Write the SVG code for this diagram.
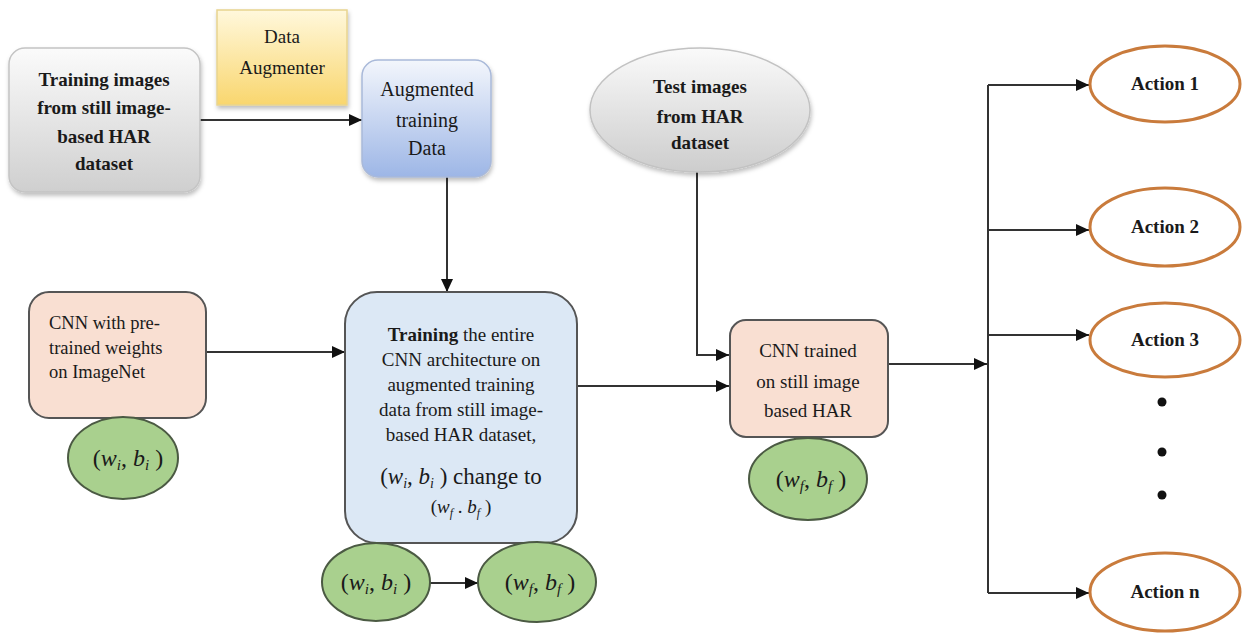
<svg xmlns="http://www.w3.org/2000/svg" width="1243" height="634" viewBox="0 0 1243 634">
<style>
text{font-family:'Liberation Serif','DejaVu Serif',serif}
.t{fill:#1a1a1a;text-anchor:middle}
.b{font-weight:bold}
.l{text-anchor:start}
.it{font-style:italic}
.con{stroke:#333;stroke-width:2;fill:none}
.green{fill:#a9d08e;stroke:#4b5a43;stroke-width:2}
.act{fill:#fff;stroke:#c97b3c;stroke-width:3}
.peach{fill:#f9dfd2;stroke:#555;stroke-width:2}
</style>
<defs>
<marker id="arr" markerUnits="userSpaceOnUse" markerWidth="14" markerHeight="12" refX="13" refY="6" orient="auto">
<path d="M0,0 L13,6 L0,12 Z" fill="#111"/>
</marker>
<linearGradient id="gGray" x1="0" y1="0" x2="0" y2="1"><stop offset="0" stop-color="#fbfbfb"/><stop offset="1" stop-color="#cfcfcf"/></linearGradient>
<linearGradient id="gYel" x1="0" y1="0" x2="0" y2="1"><stop offset="0" stop-color="#fff8dc"/><stop offset="1" stop-color="#f9d66e"/></linearGradient>
<linearGradient id="gBlue" x1="0" y1="0" x2="0" y2="1"><stop offset="0" stop-color="#f3f6fc"/><stop offset="1" stop-color="#9db6e6"/></linearGradient>
<linearGradient id="gTest" x1="0" y1="0" x2="0" y2="1"><stop offset="0" stop-color="#fafafa"/><stop offset="1" stop-color="#cdcdcd"/></linearGradient>
<filter id="sh" x="-10%" y="-10%" width="125%" height="125%"><feDropShadow dx="1" dy="3" stdDeviation="2" flood-color="#000" flood-opacity="0.25"/></filter>
</defs>

<g id="connectors">
<line class="con" x1="200" y1="120" x2="362" y2="120" marker-end="url(#arr)"/>
<line class="con" x1="447" y1="177" x2="447" y2="292" marker-end="url(#arr)"/>
<line class="con" x1="206" y1="352" x2="345" y2="352" marker-end="url(#arr)"/>
<line class="con" x1="577" y1="386" x2="729" y2="386" marker-end="url(#arr)"/>
<polyline class="con" points="697,172 697,355 729,355" marker-end="url(#arr)"/>
<line class="con" x1="888" y1="364" x2="987" y2="364" marker-end="url(#arr)"/>
<line class="con" x1="988" y1="85" x2="988" y2="593"/>
<line class="con" x1="988" y1="85" x2="1089" y2="85" marker-end="url(#arr)"/>
<line class="con" x1="988" y1="230" x2="1089" y2="230" marker-end="url(#arr)"/>
<line class="con" x1="988" y1="335" x2="1089" y2="335" marker-end="url(#arr)"/>
<line class="con" x1="988" y1="593" x2="1089" y2="593" marker-end="url(#arr)"/>
<line class="con" x1="430" y1="583" x2="478" y2="583" marker-end="url(#arr)"/>
</g>

<g id="training-images">
<rect x="9" y="48" width="191" height="144" rx="16" fill="url(#gGray)" stroke="#c4c4c4" stroke-width="1.5" filter="url(#sh)"/>
<text class="t b" font-size="19" x="104" y="86">Training images</text>
<text class="t b" font-size="19" x="104" y="114">from still image-</text>
<text class="t b" font-size="19" x="104" y="143">based HAR</text>
<text class="t b" font-size="19" x="104" y="170">dataset</text>
</g>

<g id="data-augmenter">
<rect x="217" y="10" width="130" height="95" fill="url(#gYel)" stroke="#e8d48f" stroke-width="1.5" filter="url(#sh)"/>
<text class="t" font-size="19" x="282" y="43">Data</text>
<text class="t" font-size="19" x="282" y="74">Augmenter</text>
</g>

<g id="augmented-data">
<rect x="362" y="60" width="129" height="117" rx="16" fill="url(#gBlue)" stroke="#a9b9d9" stroke-width="1.5" filter="url(#sh)"/>
<text class="t" font-size="20" x="427" y="96">Augmented</text>
<text class="t" font-size="20" x="427" y="127">training</text>
<text class="t" font-size="20" x="427" y="155">Data</text>
</g>

<g id="cnn-pretrained">
<rect class="peach" x="29" y="292" width="177" height="126" rx="20"/>
<text class="t l" font-size="18.5" x="49" y="329">CNN with pre-</text>
<text class="t l" font-size="18.5" x="49" y="354">trained weights</text>
<text class="t l" font-size="18.5" x="49" y="378">on ImageNet</text>
</g>

<g id="wi-bi-1">
<ellipse class="green" cx="123" cy="458" rx="55" ry="41"/>
<text class="t" font-size="24" x="128" y="466">(<tspan class="it">w</tspan><tspan class="it" font-size="15" dy="4">i</tspan><tspan dy="-4">, </tspan><tspan class="it">b</tspan><tspan class="it" font-size="15" dy="4">i</tspan><tspan dy="-4"> )</tspan></text>
</g>

<g id="training-box">
<rect x="345" y="292" width="232" height="251" rx="32" fill="#dce8f5" stroke="#555" stroke-width="2"/>
<text class="t" font-size="19" x="461" y="341"><tspan class="b">Training</tspan> the entire</text>
<text class="t" font-size="19" x="461" y="366">CNN architecture on</text>
<text class="t" font-size="19" x="461" y="391">augmented training</text>
<text class="t" font-size="19" x="461" y="416">data from still image-</text>
<text class="t" font-size="19" x="461" y="441">based HAR dataset,</text>
<text class="t" font-size="23" x="461" y="484">(<tspan class="it">w</tspan><tspan class="it" font-size="14" dy="4">i</tspan><tspan dy="-4">, </tspan><tspan class="it">b</tspan><tspan class="it" font-size="14" dy="4">i</tspan><tspan dy="-4"> ) change to</tspan></text>
<text class="t" font-size="19" x="461" y="513">(<tspan class="it">w</tspan><tspan class="it" font-size="12" dy="4">f</tspan><tspan dy="-4"> . </tspan><tspan class="it">b</tspan><tspan class="it" font-size="12" dy="4">f</tspan><tspan dy="-4"> )</tspan></text>
</g>

<g id="wi-bi-2">
<ellipse class="green" cx="376" cy="582" rx="54" ry="39"/>
<text class="t" font-size="24" x="376" y="590">(<tspan class="it">w</tspan><tspan class="it" font-size="15" dy="4">i</tspan><tspan dy="-4">, </tspan><tspan class="it">b</tspan><tspan class="it" font-size="15" dy="4">i</tspan><tspan dy="-4"> )</tspan></text>
</g>

<g id="wf-bf-1">
<ellipse class="green" cx="537" cy="582" rx="59" ry="40"/>
<text class="t" font-size="24" x="540" y="590">(<tspan class="it">w</tspan><tspan class="it" font-size="15" dy="4">f</tspan><tspan dy="-4">, </tspan><tspan class="it">b</tspan><tspan class="it" font-size="15" dy="4">f</tspan><tspan dy="-4"> )</tspan></text>
</g>

<g id="test-images">
<ellipse cx="700" cy="110" rx="110" ry="62" fill="url(#gTest)" stroke="#c2c2c2" stroke-width="1.5" filter="url(#sh)"/>
<text class="t b" font-size="19" x="700" y="93">Test images</text>
<text class="t b" font-size="19" x="700" y="123">from HAR</text>
<text class="t b" font-size="19" x="700" y="149">dataset</text>
</g>

<g id="cnn-trained">
<rect class="peach" x="730" y="320" width="158" height="117" rx="16"/>
<text class="t" font-size="19" x="808" y="357">CNN trained</text>
<text class="t" font-size="19" x="808" y="388">on still image</text>
<text class="t" font-size="19" x="808" y="417">based HAR</text>
</g>

<g id="wf-bf-2">
<ellipse class="green" cx="808" cy="479" rx="59" ry="41"/>
<text class="t" font-size="24" x="811" y="487">(<tspan class="it">w</tspan><tspan class="it" font-size="15" dy="4">f</tspan><tspan dy="-4">, </tspan><tspan class="it">b</tspan><tspan class="it" font-size="15" dy="4">f</tspan><tspan dy="-4"> )</tspan></text>
</g>

<g id="action-1">
<ellipse class="act" cx="1165" cy="84" rx="75" ry="38"/>
<text class="t b" font-size="19" x="1165" y="90">Action 1</text>
</g>
<g id="action-2">
<ellipse class="act" cx="1165" cy="227" rx="75" ry="39"/>
<text class="t b" font-size="19" x="1165" y="233">Action 2</text>
</g>
<g id="action-3">
<ellipse class="act" cx="1165" cy="340" rx="75" ry="37"/>
<text class="t b" font-size="19" x="1165" y="346">Action 3</text>
</g>
<g id="dots">
<circle cx="1162" cy="402" r="4.5" fill="#111"/>
<circle cx="1162" cy="452" r="4.5" fill="#111"/>
<circle cx="1162" cy="495" r="4.5" fill="#111"/>
</g>
<g id="action-n">
<ellipse class="act" cx="1165" cy="592" rx="75" ry="39"/>
<text class="t b" font-size="19" x="1165" y="598">Action n</text>
</g>
</svg>
